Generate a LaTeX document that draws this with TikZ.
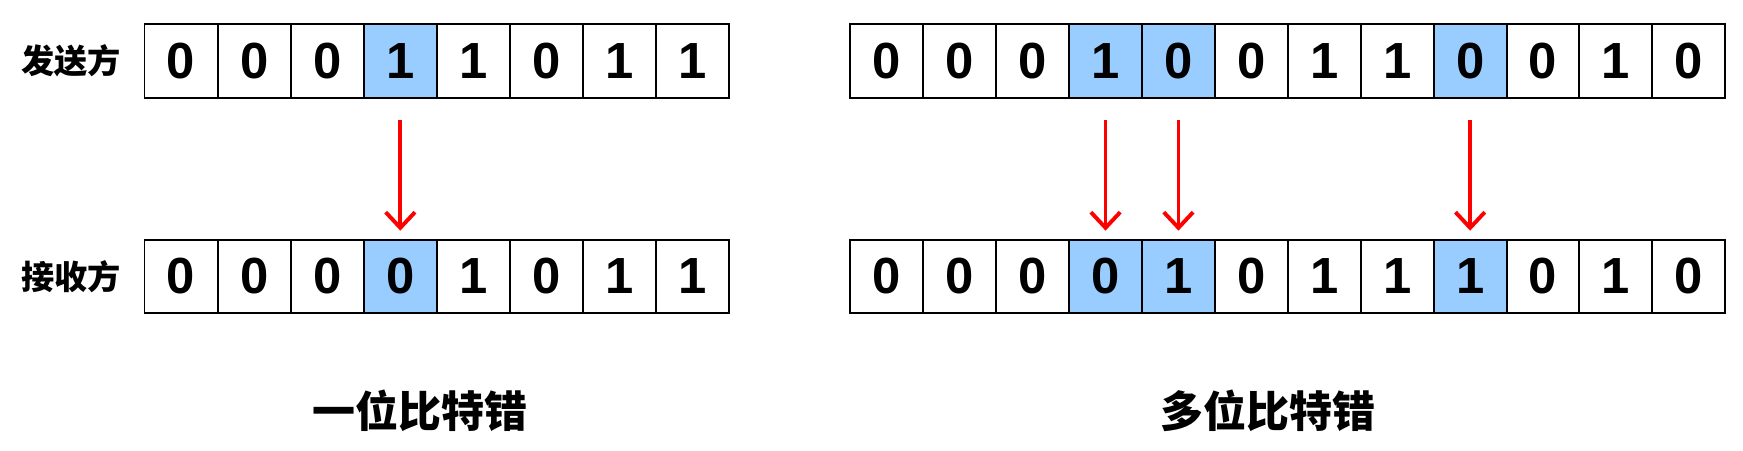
\documentclass[tikz,border=0pt]{standalone}
\usepackage{fontspec}
\setmainfont{Liberation Sans}
\newfontfamily\cjk{Noto Sans CJK SC}
\usepackage{tikz}
\usetikzlibrary{arrows.meta, positioning}
\usepackage{xcolor}
\definecolor{flipblue}{HTML}{99CCFF}
\definecolor{errred}{HTML}{FF0000}

\begin{document}
\begin{tikzpicture}[
    bit/.style={draw=black, line width=1pt, minimum width=1.315cm, minimum height=1.32cm, inner sep=0pt, outer sep=0pt, font=\fontsize{26}{26}\selectfont\bfseries},
    side/.style={font=\cjk\bfseries\fontsize{17}{17}\selectfont, inner sep=0pt},
    caption/.style={font=\cjk\bfseries\fontsize{22}{22}\selectfont, inner sep=0pt},
    errarrow/.style={draw=errred, line width=2pt, -{Straight Barb[length=8pt, width=15pt]}}
]
    \useasboundingbox (0,0) rectangle (31.36,-8.1);

    % single bit error
    \foreach \b/\f [count=\i] in {0/white,0/white,0/white,1/flipblue,1/white,0/white,1/white,1/white}
        \node[bit, fill=\f] (st\i) at ({1.9425+\i*1.315}, -1.1) {\b};
    \foreach \b/\f [count=\i] in {0/white,0/white,0/white,0/flipblue,1/white,0/white,1/white,1/white}
        \node[bit, fill=\f] (rv\i) at ({1.9425+\i*1.315}, -4.97) {\b};

    \node[side, left=0.42cm of st1] (sender) {发送方};
    \node[side, left=0.42cm of rv1] (receiver) {接收方};

    \draw[errarrow] ([yshift=-0.4cm]st4.south) -- ([yshift=0.16cm]rv4.north);

    % multi bit error
    \foreach \b/\f [count=\i] in {0/white,0/white,0/white,1/flipblue,0/flipblue,0/white,1/white,1/white,0/flipblue,0/white,1/white,0/white}
        \node[bit, fill=\f] (ms\i) at ({14.6425+\i*1.312}, -1.1) {\b};
    \foreach \b/\f [count=\i] in {0/white,0/white,0/white,0/flipblue,1/flipblue,0/white,1/white,1/white,1/flipblue,0/white,1/white,0/white}
        \node[bit, fill=\f] (mr\i) at ({14.6425+\i*1.312}, -4.97) {\b};

    \foreach \i in {4,5,9}
        \draw[errarrow] ([yshift=-0.4cm]ms\i.south) -- ([yshift=0.16cm]mr\i.north);

    \node[caption] (single) at (7.56,-7.4) {一位比特错};
    \node[caption] (multi) at (22.82,-7.4) {多位比特错};
\end{tikzpicture}
\end{document}
